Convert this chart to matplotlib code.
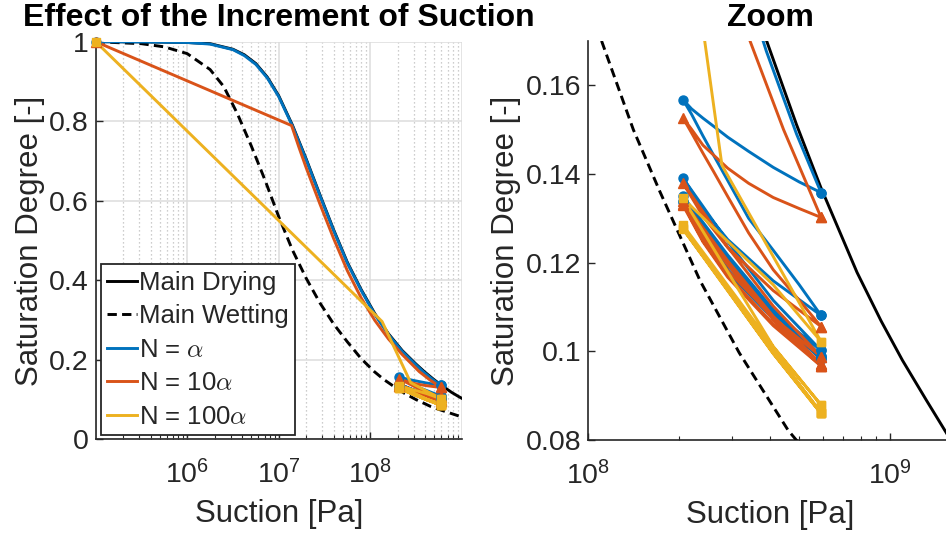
import matplotlib
matplotlib.use("Agg")
import matplotlib.pyplot as plt
from matplotlib.font_manager import FontProperties
from matplotlib.ticker import FixedLocator, FixedFormatter, NullFormatter

plt.rcParams['font.family'] = ['Liberation Sans', 'DejaVu Sans']
plt.rcParams['mathtext.fontset'] = 'custom'
plt.rcParams['mathtext.rm'] = 'Liberation Sans'
plt.rcParams['mathtext.it'] = 'Liberation Sans:italic'
plt.rcParams['mathtext.bf'] = 'Liberation Sans:bold'

# ---------------- data ----------------
# main drying / wetting curves: log10(suction [Pa]) and saturation degree
drying_exp = [5.0, 5.5, 6.0, 6.25, 6.5, 6.625, 6.75, 6.875, 7.0, 7.15, 7.3, 7.45, 7.6, 7.75,
              7.9, 8.05, 8.2, 8.35, 8.5, 8.59, 8.69, 8.77, 8.89, 8.97, 9.04, 9.12, 9.19, 9.25]
drying_sr = [1.0, 0.9996, 0.998, 0.995, 0.981, 0.967, 0.945, 0.911, 0.864, 0.790, 0.705, 0.615,
             0.527, 0.445, 0.377, 0.316, 0.265, 0.223, 0.189, 0.1702, 0.1511, 0.1370, 0.1178,
             0.1068, 0.0980, 0.0889, 0.0811, 0.0755]

wetting_exp = [5.0, 5.5, 5.75, 6.0, 6.25, 6.4, 6.55, 6.7, 6.85, 7.0, 7.15, 7.3, 7.45, 7.6, 7.75,
               7.9, 8.045, 8.15, 8.238, 8.371, 8.5, 8.662, 8.75, 9.0, 9.25]
wetting_sr = [1.0, 0.995, 0.987, 0.970, 0.930, 0.887, 0.818, 0.738, 0.652, 0.560, 0.476, 0.405,
              0.343, 0.290, 0.245, 0.203, 0.170, 0.150, 0.1360, 0.1159, 0.0997, 0.0822, 0.0750,
              0.0560, 0.0430]

# first drying path of each simulation
blue_init_exp = [5.0, 5.5, 6.0, 6.25, 6.5, 6.625, 6.75, 6.875, 7.0, 7.15, 7.3, 7.45, 7.6, 7.75,
                 7.9, 8.05, 8.2, 8.35, 8.5, 8.59, 8.69, 8.7709]
blue_init_sr = [1.0, 0.9995, 0.998, 0.994, 0.980, 0.965, 0.943, 0.909, 0.862, 0.788, 0.703, 0.613,
                0.525, 0.443, 0.375, 0.314, 0.263, 0.221, 0.187, 0.1677, 0.1490, 0.1358]

orange_init_exp = [5.0, 7.141, 7.22, 7.3, 7.45, 7.6, 7.75, 7.9, 8.05, 8.2, 8.35, 8.536, 8.647, 8.7709]
orange_init_sr = [1.0, 0.789, 0.735, 0.683, 0.592, 0.505, 0.424, 0.356, 0.299, 0.252, 0.213,
                  0.170, 0.150, 0.1302]

yellow_init_exp = [5.0, 8.13, 8.443, 8.7709]
yellow_init_sr = [1.0, 0.296, 0.142, 0.1022]

# first wetting / drying cycle (finer suction steps) for N = alpha and N = 10 alpha
first_loop_s = [5.9e8, 5.0e8, 4.1e8, 3.4e8, 2.9e8, 2.6e8, 2.4e8, 2.2e8, 2.06e8,
                2.2e8, 2.4e8, 2.6e8, 2.9e8, 3.4e8, 4.1e8, 5.0e8, 5.9e8]
blue_first_loop = [0.1358, 0.1382, 0.1415, 0.1451, 0.1483, 0.1508, 0.1526, 0.1547, 0.1568,
                   0.1535, 0.1486, 0.1443, 0.1385, 0.1300, 0.1228, 0.1150, 0.1081]
orange_first_loop = [0.1302, 0.1322, 0.1347, 0.1379, 0.1413, 0.1443, 0.1465, 0.1501, 0.1527,
                     0.1493, 0.1447, 0.1406, 0.1349, 0.1267, 0.1184, 0.1115, 0.1056]

# later cycles between 5.9e8 Pa and 2.06e8 Pa
loop_s = [5.9e8, 4.1e8, 2.9e8, 2.4e8, 2.06e8, 2.4e8, 2.9e8, 4.1e8, 5.9e8]
blue_loops = [
    [0.1081, 0.1159, 0.1252, 0.1320, 0.1391, 0.1327, 0.1247, 0.1115, 0.1002],
    [0.1002, 0.1089, 0.1193, 0.1270, 0.1350, 0.1291, 0.1217, 0.1094, 0.0990],
    [0.0990, 0.1078, 0.1183, 0.1260, 0.1340, 0.1281, 0.1209, 0.1088, 0.0985],
    [0.0985, 0.1073, 0.1178, 0.1255, 0.1336, 0.1278, 0.1205, 0.1085, 0.0983],
]
orange_loops = [
    [0.1056, 0.1137, 0.1234, 0.1305, 0.1380, 0.1315, 0.1235, 0.1102, 0.0988],
    [0.0988, 0.1076, 0.1182, 0.1259, 0.1340, 0.1279, 0.1204, 0.1079, 0.0972],
    [0.0972, 0.1062, 0.1171, 0.1250, 0.1333, 0.1273, 0.1198, 0.1073, 0.0967],
    [0.0967, 0.1058, 0.1167, 0.1247, 0.1330, 0.1270, 0.1195, 0.1072, 0.0966],
]
yellow_loop_s = [5.9e8, 4.1e8, 2.06e8, 4.1e8, 5.9e8]
yellow_loops = [
    [0.1022, 0.1150, 0.1345, 0.1011, 0.0879],
    [0.0879, 0.1010, 0.1285, 0.0998, 0.0862],
    [0.0862, 0.1003, 0.1278, 0.0995, 0.0860],
    [0.0860, 0.1002, 0.1276, 0.0995, 0.0860],
]

labels = ['Main Drying', 'Main Wetting', r'N = $\alpha$', r'N = 10$\alpha$', r'N = 100$\alpha$']
colors = ['#0072BD', '#D95319', '#EDB120']
markers = ['o', '^', 's']
msizes = [6.5, 7.2, 5.8]

S_LO, S_HI = 2.06e8, 5.9e8


# ---------------- build paths ----------------
def build(init_exp, init_sr, loops):
    xs = [10 ** e for e in init_exp]
    ys = list(init_sr)
    mx = [xs[0], xs[-1]]
    my = [ys[0], ys[-1]]
    for lp_s, lp in loops:
        xs += lp_s[1:]
        ys += lp[1:]
        for s, v in zip(lp_s, lp):
            if s in (S_LO, S_HI):
                mx.append(s)
                my.append(v)
    return xs, ys, mx, my


series = [
    build(blue_init_exp, blue_init_sr,
          [(first_loop_s, blue_first_loop)] + [(loop_s, l) for l in blue_loops]),
    build(orange_init_exp, orange_init_sr,
          [(first_loop_s, orange_first_loop)] + [(loop_s, l) for l in orange_loops]),
    build(yellow_init_exp, yellow_init_sr, [(yellow_loop_s, l) for l in yellow_loops]),
]

# ---------------- figure ----------------
W, H = 946, 539
fig = plt.figure(figsize=(W / 100, H / 100), dpi=100)
ax1 = fig.add_axes([95.7 / W, (H - 439.2) / H, 366 / W, 397.5 / H])
ax2 = fig.add_axes([588 / W, (H - 440) / H, 364 / W, 399 / H])

axc = '#262626'
tick_fs = 20.5
lab_fs = 22.5

for ax, clip in ((ax1, False), (ax2, True)):
    ax.set_xscale('log')
    ax.plot([10 ** e for e in drying_exp], drying_sr, color='black', lw=2.1,
            label=labels[0], zorder=3)
    ax.plot([10 ** e for e in wetting_exp], wetting_sr, color='black', lw=2.1,
            dashes=(3.2, 1.8), label=labels[1], zorder=3)
    for k, (xs, ys, mx, my) in enumerate(series):
        ax.plot(xs, ys, color=colors[k], lw=2.1, label=labels[k + 2], zorder=4 + k)
    for k, (xs, ys, mx, my) in enumerate(series):
        ax.plot(mx, my, linestyle='none', marker=markers[k], ms=msizes[k],
                color=colors[k], mec=colors[k], mew=1.0, zorder=8 + k, clip_on=clip)
    for side in ('top', 'right'):
        ax.spines[side].set_visible(False)
    for side in ('left', 'bottom'):
        ax.spines[side].set_color(axc)
        ax.spines[side].set_linewidth(1.2)
    ax.tick_params(which='both', direction='in', colors=axc, labelsize=tick_fs,
                   labelcolor=axc)
    ax.tick_params(which='major', length=5, width=1.0, pad=5)
    ax.tick_params(which='minor', length=3, width=0.8)
    ax.tick_params(axis='x', which='major', pad=15)
    ax.set_xlabel('Suction [Pa]', fontsize=lab_fs, color=axc, labelpad=7)
    ax.set_ylabel('Saturation Degree [-]', fontsize=lab_fs, color=axc, labelpad=3)

# left axes
ax1.set_xlim(1e5, 1e9)
ax1.set_ylim(0, 1)
ax1.xaxis.set_major_locator(FixedLocator([1e6, 1e7, 1e8]))
ax1.xaxis.set_major_formatter(FixedFormatter([r'$\mathrm{10^{6}}$', r'$\mathrm{10^{7}}$',
                                              r'$\mathrm{10^{8}}$']))
minor1 = [m * 10 ** d for d in range(5, 9) for m in range(2, 10)]
ax1.xaxis.set_minor_locator(FixedLocator(minor1))
ax1.xaxis.set_minor_formatter(NullFormatter())
ax1.yaxis.set_major_locator(FixedLocator([0, 0.2, 0.4, 0.6, 0.8, 1.0]))
ax1.yaxis.set_major_formatter(FixedFormatter(['0', '0.2', '0.4', '0.6', '0.8', '1']))
ax1.grid(True, which='major', color='#dcdcdc', lw=1.1, zorder=0)
for v in [1e5, 1e9]:
    ax1.axvline(v, color='#dcdcdc', lw=1.1, zorder=0)
ax1.grid(True, which='minor', axis='x', color='#bdbdbd', lw=0.9, linestyle=(0, (1, 2.2)), zorder=0)
ax1.set_axisbelow(True)
ax1.set_title('Effect of the Increment of Suction', fontsize=23, fontweight='bold', pad=11)

legprop = FontProperties(family='Liberation Sans', size=18.5, math_fontfamily='cm')
leg = ax1.legend(loc='lower left', bbox_to_anchor=(0.0145, 0.0106), borderaxespad=0,
                 prop=legprop, handlelength=1.15, handletextpad=0.08, labelspacing=0.37,
                 borderpad=0.25, fancybox=False, framealpha=1.0, edgecolor=axc)
leg.get_frame().set_linewidth(1.3)
for t in leg.get_texts():
    t.set_color(axc)

# right axes
ax2.set_xlim(1e8, 1.6e9)
ax2.set_ylim(0.08, 0.17)
ax2.xaxis.set_major_locator(FixedLocator([1e8, 1e9]))
ax2.xaxis.set_major_formatter(FixedFormatter([r'$\mathrm{10^{8}}$', r'$\mathrm{10^{9}}$']))
ax2.xaxis.set_minor_locator(FixedLocator([m * 1e8 for m in range(2, 10)]))
ax2.xaxis.set_minor_formatter(NullFormatter())
ax2.yaxis.set_major_locator(FixedLocator([0.08, 0.10, 0.12, 0.14, 0.16]))
ax2.yaxis.set_major_formatter(FixedFormatter(['0.08', '0.1', '0.12', '0.14', '0.16']))
ax2.set_title('Zoom', fontsize=23, fontweight='bold', pad=11)

fig.savefig('out.png', dpi=100)
